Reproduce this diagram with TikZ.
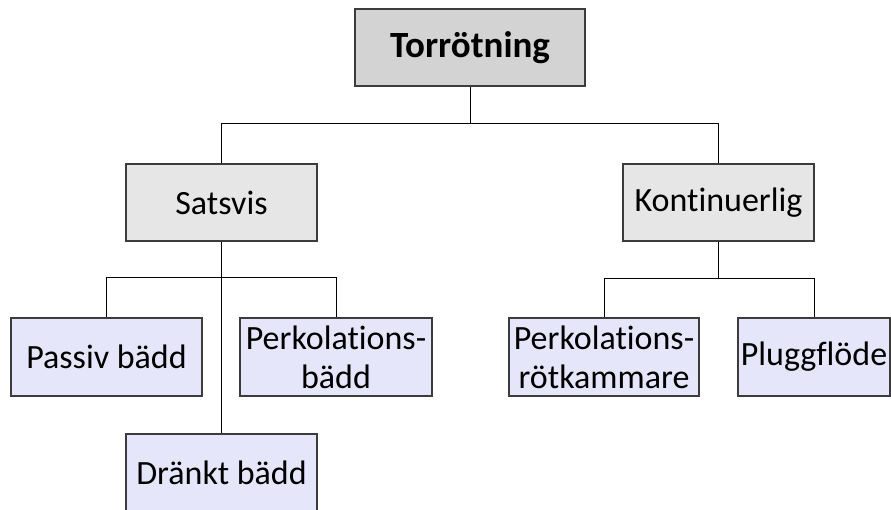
\documentclass[tikz,border=0pt]{standalone}
\usepackage{fontspec}
\setmainfont[Ligatures={NoCommon,NoContextual}]{Carlito}
\definecolor{topfill}{HTML}{D3D3D3}
\definecolor{midfill}{HTML}{E6E6E6}
\definecolor{leaffill}{HTML}{E6E6FA}
\definecolor{edge}{HTML}{3C3C3C}
\begin{document}
\begin{tikzpicture}[x=1pt,y=-1pt,
  box/.style={draw=edge,line width=1.3pt,rectangle,inner sep=0pt,align=center,
    font=\fontsize{34}{39}\selectfont},
  topbox/.style={box,fill=topfill,minimum width=230pt,minimum height=77pt,font=\fontsize{37}{42}\selectfont\bfseries},
  midbox/.style={box,fill=midfill,minimum width=191pt,minimum height=77pt},
  leafbox/.style={box,fill=leaffill,minimum height=78pt},
  conn/.style={draw=black,line width=1pt}]
\useasboundingbox (0,0) rectangle (891,510);
\clip (0,0) rectangle (891,510);
\node[topbox] (top) at (470,47.5) {Torrötning};
\node[midbox] (sats) at (221.5,202.5) {Satsvis};
\node[midbox] (kont) at (718.5,202.5) {Kont\kern0pt inuerlig};
\node[leafbox,minimum width=191pt] (passiv) at (106.5,357) {Passiv bädd};
\node[leafbox,minimum width=192pt] (perkb) at (336,357) {Perkolat\kern0pt ions-\\bädd};
\node[leafbox,minimum width=191pt] (drankt) at (221.5,473) {Dränkt bädd};
\node[leafbox,minimum width=190pt] (perkr) at (604,357) {Perkolat\kern0pt ions-\\rötkammare};
\node[leafbox,minimum width=152pt] (plugg) at (814,357) {Pluggflöde};
\coordinate (j1) at (470,124);
\coordinate (j2) at (221.5,278);
\coordinate (j3) at (718.5,279);
\draw[conn] (top.south) -- (j1) -| (sats.north);
\draw[conn] (j1) -| (kont.north);
\draw[conn] (sats.south) -- (j2) -| (passiv.north);
\draw[conn] (j2) -| (perkb.north);
\draw[conn] (j2) -- (drankt.north);
\draw[conn] (kont.south) -- (j3) -| (perkr.north);
\draw[conn] (j3) -| (plugg.north);
\end{tikzpicture}
\end{document}
